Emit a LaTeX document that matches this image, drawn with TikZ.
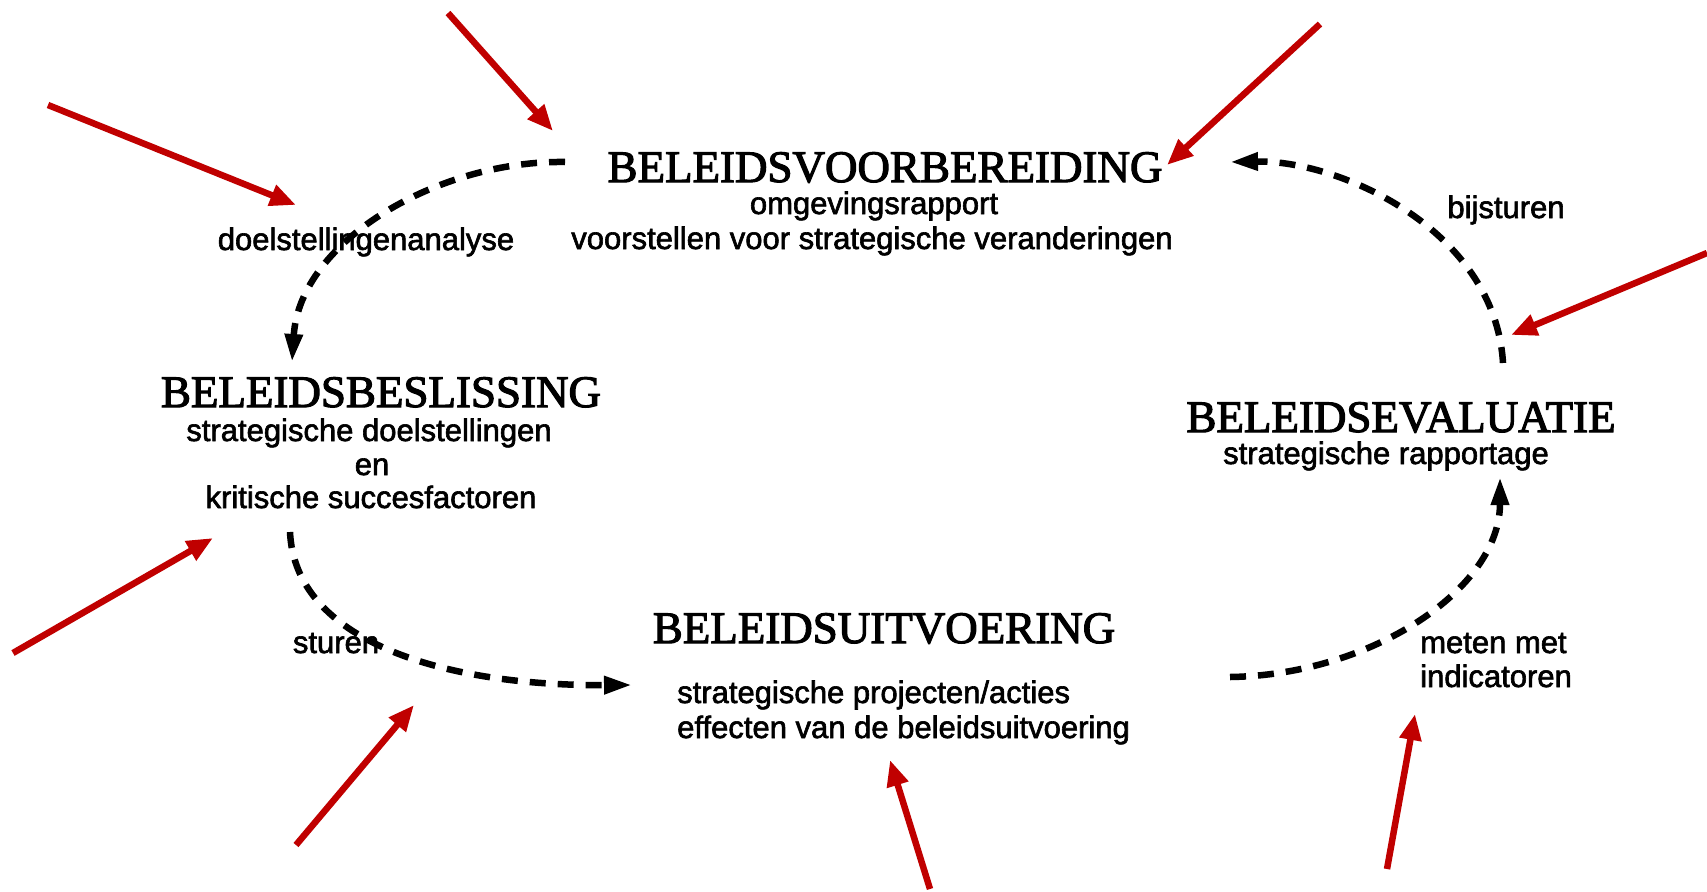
\documentclass[tikz,border=0pt]{standalone}
\usepackage{fontspec}
\setmainfont{Liberation Serif}[FakeBold=2.5]
\setsansfont{Liberation Sans}[FakeBold=2]
\usetikzlibrary{arrows.meta}
\definecolor{pijlrood}{RGB}{192,0,0}
\tikzset{
  titel/.style={font=\fontsize{45}{50}\selectfont\rmfamily, inner sep=0pt, anchor=base},
  tekst/.style={font=\fontsize{31}{34}\selectfont\sffamily, inner sep=0pt, anchor=base},
  rood/.style={draw=pijlrood, line width=6.5pt, -{Triangle[length=26pt,width=21pt]}},
  kring/.style={draw=black, line width=6.5pt, dash pattern=on 16pt off 12pt, -{Triangle[length=28pt,width=17pt]}},
}
\begin{document}
\begin{tikzpicture}[x=1pt,y=-1pt]
\useasboundingbox (0,0) rectangle (1707,891);
\fill[white] (0,0) rectangle (1707,891);

% titles and texts
\node[titel] (vb) at (885,182) {BELEIDSVOORBEREIDING};
\node[tekst] (vb1) at (874,214) {omgevingsrapport};
\node[tekst] (vb2) at (872,249) {voorstellen voor strategische veranderingen};
\node[tekst] (da) at (366,250) {doelstellingenanalyse};
\node[titel] (bb) at (381,407) {BELEIDSBESLISSING};
\node[tekst] (bb1) at (369,441) {strategische doelstellingen};
\node[tekst] (bb2) at (372,475) {en};
\node[tekst] (bb3) at (371,508) {kritische succesfactoren};
\node[tekst] (st) at (336,653) {sturen};
\node[titel] (bu) at (884,643) {BELEIDSUITVOERING};
\node[tekst,anchor=base west] (bu1) at (677,703) {strategische projecten/acties};
\node[tekst,anchor=base west] (bu2) at (677,738) {effecten van de beleidsuitvoering};
\node[titel] (be) at (1401,432) {BELEIDSEVALUATIE};
\node[tekst] (be1) at (1386,464) {strategische rapportage};
\node[tekst] (bs) at (1506,218) {bijsturen};
\node[tekst,anchor=base west] (mm1) at (1420,653) {meten met};
\node[tekst,anchor=base west] (mm2) at (1420,687) {indicatoren};

% cycle coordinates
\coordinate (k1s) at (565,162);
\coordinate (k1e) at (292,362);
\coordinate (k2s) at (290,532);
\coordinate (k2e) at (632,685);
\coordinate (k3s) at (1230,677);
\coordinate (k3e) at (1500,477);
\coordinate (k4s) at (1503,363);
\coordinate (k4e) at (1230,162);

\draw[kring] (k1s) .. controls (440,160) and (300,240) .. (k1e);
\draw[kring] (k2s) .. controls (295,640) and (440,686) .. (k2e);
\draw[kring] (k3s) .. controls (1370,675) and (1500,590) .. (k3e);
\draw[kring] (k4s) .. controls (1495,230) and (1340,160) .. (k4e);

% red arrows
\coordinate (ra1) at (448,13);   \coordinate (ra2) at (553,131);
\coordinate (rb1) at (1320,24);  \coordinate (rb2) at (1167,165);
\coordinate (rc1) at (48,105);   \coordinate (rc2) at (296,205);
\coordinate (rd1) at (1707,253); \coordinate (rd2) at (1511,335);
\coordinate (re1) at (13,653);   \coordinate (re2) at (213,538);
\coordinate (rf1) at (296,845);  \coordinate (rf2) at (414,705);
\coordinate (rg1) at (930,889);  \coordinate (rg2) at (890,760);
\coordinate (rh1) at (1387,869); \coordinate (rh2) at (1415,714);

\draw[rood] (ra1) -- (ra2);
\draw[rood] (rb1) -- (rb2);
\draw[rood] (rc1) -- (rc2);
\draw[rood] (rd1) -- (rd2);
\draw[rood] (re1) -- (re2);
\draw[rood] (rf1) -- (rf2);
\draw[rood] (rg1) -- (rg2);
\draw[rood] (rh1) -- (rh2);
\end{tikzpicture}
\end{document}
